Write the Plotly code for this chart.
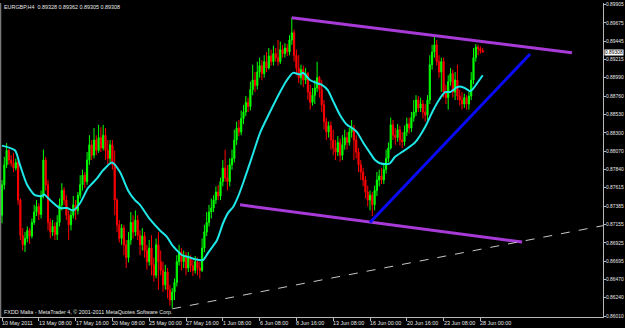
import plotly.graph_objects as go

# ---------------- data (prices in 1e-4 units, i.e. pips) ----------------
open_pips = [8727,8765,8790,8808,8796,8792,8786,8793,8746,8702,8690,8698,8708,8701,8718,8731,8738,8728,8752,8796,
 8765,8718,8706,8713,8703,8718,8740,8758,8746,8727,8715,8727,8740,8733,8752,8765,8777,8769,8796,8815,
 8802,8821,8808,8824,8811,8827,8808,8798,8815,8790,8746,8715,8698,8711,8690,8674,8696,8718,8706,8721,
 8702,8690,8701,8683,8669,8686,8665,8652,8690,8669,8658,8640,8656,8634,8621,8631,8643,8669,8681,8669,
 8677,8661,8674,8664,8658,8669,8661,8658,8686,8706,8718,8731,8736,8746,8756,8751,8769,8786,8774,8769,
 8790,8798,8821,8836,8831,8848,8856,8868,8863,8884,8896,8889,8906,8914,8904,8919,8911,8926,8919,8929,
 8924,8919,8934,8929,8936,8931,8946,8955,8927,8911,8899,8909,8896,8904,8881,8868,8877,8886,8899,8884,
 8865,8844,8831,8839,8821,8811,8806,8818,8802,8815,8824,8818,8831,8836,8821,8806,8790,8781,8771,8756,
 8746,8752,8740,8758,8771,8776,8771,8784,8798,8811,8840,8827,8824,8834,8821,8819,8831,8841,8836,8849,
 8856,8871,8861,8866,8856,8852,8871,8915,8931,8940,8919,8906,8919,8881,8874,8894,8904,8881,8896,8876,
 8871,8866,8874,8866,8876,8896,8924,8937,8935,8932.8]
high_pips = [8771,8800,8817,8810,8802,8805,8798,8796,8748,8711,8706,8713,8711,8723,8740,8746,8742,8758,8809,8800,
 8771,8723,8721,8718,8727,8748,8767,8762,8752,8733,8733,8751,8746,8756,8777,8784,8781,8806,8827,8821,
 8836,8827,8840,8837,8840,8836,8821,8821,8821,8808,8748,8721,8716,8715,8696,8706,8731,8727,8733,8727,
 8708,8711,8706,8690,8696,8702,8674,8698,8706,8683,8669,8665,8661,8640,8636,8648,8677,8690,8686,8683,
 8681,8681,8677,8671,8676,8674,8669,8698,8715,8731,8740,8748,8752,8763,8765,8774,8796,8809,8790,8798,
 8809,8834,8844,8846,8858,8865,8876,8874,8894,8915,8906,8919,8924,8921,8927,8931,8936,8934,8939,8936,
 8946,8944,8940,8942,8941,8952,8974,8959,8934,8927,8915,8914,8911,8906,8890,8886,8896,8919,8901,8896,
 8871,8849,8844,8844,8834,8821,8826,8823,8827,8834,8831,8836,8846,8840,8827,8811,8796,8786,8776,8764,
 8758,8756,8764,8781,8784,8786,8791,8809,8818,8849,8846,8836,8841,8839,8831,8839,8849,8849,8856,8871,
 8877,8876,8874,8871,8866,8877,8927,8940,8950,8946,8927,8924,8924,8890,8902,8911,8909,8906,8915,8884,
 8881,8879,8877,8881,8906,8936,8941,8940,8938,8936.2]
low_pips = [8717,8759,8786,8790,8788,8781,8783,8740,8696,8683,8681,8693,8691,8698,8715,8726,8721,8723,8748,8758,
 8708,8698,8701,8696,8696,8713,8733,8740,8721,8696,8708,8723,8721,8728,8748,8758,8761,8765,8790,8796,
 8798,8802,8805,8806,8808,8796,8790,8793,8784,8727,8706,8693,8690,8677,8661,8668,8690,8698,8701,8696,
 8677,8683,8674,8659,8664,8652,8644,8648,8634,8652,8631,8634,8623,8614,8611,8621,8638,8664,8658,8661,
 8652,8656,8656,8651,8654,8652,8648,8656,8681,8701,8713,8723,8731,8741,8746,8746,8763,8769,8758,8763,
 8784,8793,8815,8826,8827,8841,8851,8856,8858,8877,8881,8884,8899,8896,8899,8906,8909,8914,8914,8919,
 8914,8916,8924,8924,8926,8927,8940,8919,8902,8892,8890,8887,8891,8871,8859,8864,8866,8881,8874,8856,
 8834,8821,8824,8809,8802,8796,8801,8794,8796,8809,8809,8814,8824,8796,8798,8781,8771,8763,8748,8738,
 8733,8726,8733,8751,8763,8766,8766,8779,8793,8809,8821,8815,8819,8814,8811,8814,8826,8829,8831,8844,
 8851,8856,8856,8848,8844,8846,8866,8909,8924,8914,8899,8881,8874,8866,8859,8889,8874,8871,8871,8864,
 8859,8861,8859,8859,8871,8891,8919,8927,8929,8930.5]
close_pips = [8765,8790,8808,8796,8792,8786,8793,8746,8702,8690,8698,8708,8701,8718,8731,8738,8728,8752,8796,8765,
 8718,8706,8713,8703,8718,8740,8758,8746,8727,8715,8727,8740,8733,8752,8765,8777,8769,8796,8815,8802,
 8821,8808,8824,8811,8827,8808,8798,8815,8790,8746,8715,8698,8711,8690,8674,8696,8718,8706,8721,8702,
 8690,8701,8683,8669,8686,8665,8652,8690,8669,8658,8640,8656,8634,8621,8631,8643,8669,8681,8669,8677,
 8661,8674,8664,8658,8669,8661,8658,8686,8706,8718,8731,8736,8746,8756,8751,8769,8786,8774,8769,8790,
 8798,8821,8836,8831,8848,8856,8868,8863,8884,8896,8889,8906,8914,8904,8919,8911,8926,8919,8929,8924,
 8919,8934,8929,8936,8931,8946,8955,8927,8911,8899,8909,8896,8904,8881,8868,8877,8886,8899,8884,8865,
 8844,8831,8839,8821,8811,8806,8818,8802,8815,8824,8818,8831,8836,8821,8806,8790,8781,8771,8756,8746,
 8752,8740,8758,8771,8776,8771,8784,8798,8811,8840,8827,8824,8834,8821,8819,8831,8841,8836,8849,8856,
 8871,8861,8866,8856,8852,8871,8915,8931,8940,8919,8906,8919,8881,8874,8894,8904,8881,8896,8876,8871,
 8866,8874,8866,8876,8896,8924,8937,8935,8932.8,8930.8]

# moving average (bar position, value in pips)
ma_bar = [0,5.7,7.8,10.9,14.3,17.4,18.3,20.9,25.2,28.3,30.9,33.9,37.4,41.3,43.9,47.8,51.3,54.8,57.8,60,
          64.3,68.7,71.7,73.9,78.3,80.9,83.9,87.4,89.6,93.5,96.1,98.3,100.4,102.6,104.8,108.7,112.2,116.5,
          120.9,123.9,126.5,129.6,130.9,133.9,137,139.1,141.7,143.9,147,150,152.2,154.3,157,160,162.2,
          164.3,167.4,168.7,170.9,173.9,176.5,179.6,183.9,187.4,190.4,192.6,194.8,197.8,199.1,201.3,
          203.5,204.8,207.8,209]
ma_pips = [8814,8808,8790,8765,8752,8751,8753,8746,8736,8736,8733,8742,8761,8773,8783,8793,8781,8758,8746,8740,
           8722,8708,8700,8690,8677,8675,8672,8671,8680,8696,8717,8730,8737,8750,8767,8800,8830,8856,
           8881,8896,8905,8903,8905,8896,8892,8890,8883,8870,8852,8840,8836,8831,8818,8805,8796,
           8792,8791,8792,8800,8806,8811,8818,8837,8858,8873,8881,8881,8887,8888,8886,
           8882,8885,8897,8902]

# trend lines: (bar, pips) end points
top_line_bar, top_line_pips = [126, 247.8], [8974, 8930]
bot_line_bar, bot_line_pips = [103.5, 226.1], [8740, 8693.5]
blue_line_bar, blue_line_pips = [160, 229.6], [8718, 8928.5]
dash_line_bar, dash_line_pips = [74, 261.3], [8610, 8714]

time_labels = ["10 May 2011", "13 May 08:00", "17 May 16:00", "20 May 08:00", "25 May 00:00",
               "27 May 16:00", "1 Jun 08:00", "6 Jun 08:00", "8 Jun 16:00", "13 Jun 08:00",
               "16 Jun 00:00", "20 Jun 16:00", "23 Jun 08:00", "28 Jun 00:00"]
time_label_bar = [0, 16, 32, 48, 64, 80, 96, 112, 128, 144, 160, 176, 192, 208]

price_ticks = ["0.86010", "0.86240", "0.86470", "0.86695", "0.86925", "0.87155", "0.87385", "0.87615",
               "0.87840", "0.88070", "0.88300", "0.88530", "0.88760", "0.88990", "0.89215", "0.89445",
               "0.89675", "0.89905"]

symbol = "EURGBP,H4"
footer = "FXDD Malta - MetaTrader 4, \u00a9 2001-2011 MetaQuotes Software Corp."

# ---------------- figure ----------------
P = lambda v: [x / 10000 for x in v]
bars = list(range(len(close_pips)))
o, h, l, c = P(open_pips), P(high_pips), P(low_pips), P(close_pips)

FONT = "Liberation Sans"
FS = 5.4
FSY = 4.9
TXT = "#E8E8E8"
AX = "#B8B8B8"

fig = go.Figure()
fig.add_trace(go.Candlestick(
    x=bars, open=o, high=h, low=l, close=c,
    increasing=dict(line=dict(color="#00FF00", width=1), fillcolor="#00FF00"),
    decreasing=dict(line=dict(color="#FF0000", width=1), fillcolor="#FF0000"),
    whiskerwidth=0, showlegend=False, hoverinfo="skip"))
fig.add_trace(go.Scatter(x=ma_bar, y=P(ma_pips), mode="lines",
                         line=dict(color="#1EE8E8", width=2, shape="spline", smoothing=0.6),
                         showlegend=False, hoverinfo="skip"))
for bx, py, col, w, dash in [(top_line_bar, top_line_pips, "#A83AD8", 3, "solid"),
                             (bot_line_bar, bot_line_pips, "#A83AD8", 3, "solid"),
                             (blue_line_bar, blue_line_pips, "#0A0AF5", 3, "solid"),
                             (dash_line_bar, dash_line_pips, "#C8C8C8", 1, "dash")]:
    fig.add_trace(go.Scatter(x=bx, y=P(py), mode="lines",
                             line=dict(color=col, width=w, dash=dash),
                             showlegend=False, hoverinfo="skip"))

annotations = []
for b, t in zip(time_label_bar, time_labels):
    annotations.append(dict(x=b, y=0, xref="x", yref="paper", text=t, showarrow=False,
                            xanchor="left", yanchor="top", xshift=-2, yshift=-1,
                            font=dict(family=FONT, size=FS, color=TXT)))
title_txt = f"{symbol}  {o[-1]:.5f} {h[-1]:.5f} {l[-1]:.5f} {c[-1]:.5f}"
annotations.append(dict(x=0, y=1, xref="paper", yref="paper", text=title_txt, showarrow=False,
                        xanchor="left", yanchor="top", xshift=2, yshift=1,
                        font=dict(family=FONT, size=FS, color=TXT)))
annotations.append(dict(x=0, y=0, xref="paper", yref="paper", text=footer, showarrow=False,
                        xanchor="left", yanchor="bottom", xshift=2, yshift=0,
                        font=dict(family=FONT, size=FS, color=TXT)))
annotations.append(dict(x=1, y=c[-1], xref="paper", yref="y", text=f"{c[-1]:.5f}", showarrow=False,
                        xanchor="left", yanchor="middle", xshift=1, bgcolor="#FFFFFF", borderpad=0,
                        font=dict(family=FONT, size=FSY, color="#000000")))

fig.update_layout(
    width=625, height=328,
    margin=dict(l=0, r=22, t=3, b=11),
    paper_bgcolor="#000000", plot_bgcolor="#000000",
    showlegend=False, hovermode=False,
    annotations=annotations,
    shapes=[dict(type="line", xref="paper", yref="paper", x0=0.0012, x1=0.0012, y0=0, y1=1,
                 line=dict(color="#9A9A9A", width=1))],
    xaxis=dict(range=[-0.87, 261.3], showgrid=False, zeroline=False, showline=True,
               linecolor=AX, linewidth=1, ticks="outside", ticklen=3, tickcolor=AX,
               tickvals=time_label_bar, showticklabels=False,
               rangeslider=dict(visible=False), automargin=False, fixedrange=True),
    yaxis=dict(range=[0.85998, 0.89923], side="right", showgrid=False, zeroline=False,
               showline=True, linecolor=AX, linewidth=1, ticks="outside", ticklen=2,
               tickcolor=AX, tickvals=[float(t) for t in price_ticks], ticktext=price_ticks,
               ticklabelstandoff=-1,
               tickfont=dict(family=FONT, size=FSY, color=TXT), automargin=False, fixedrange=True),
)

fig.write_html("out.html")
